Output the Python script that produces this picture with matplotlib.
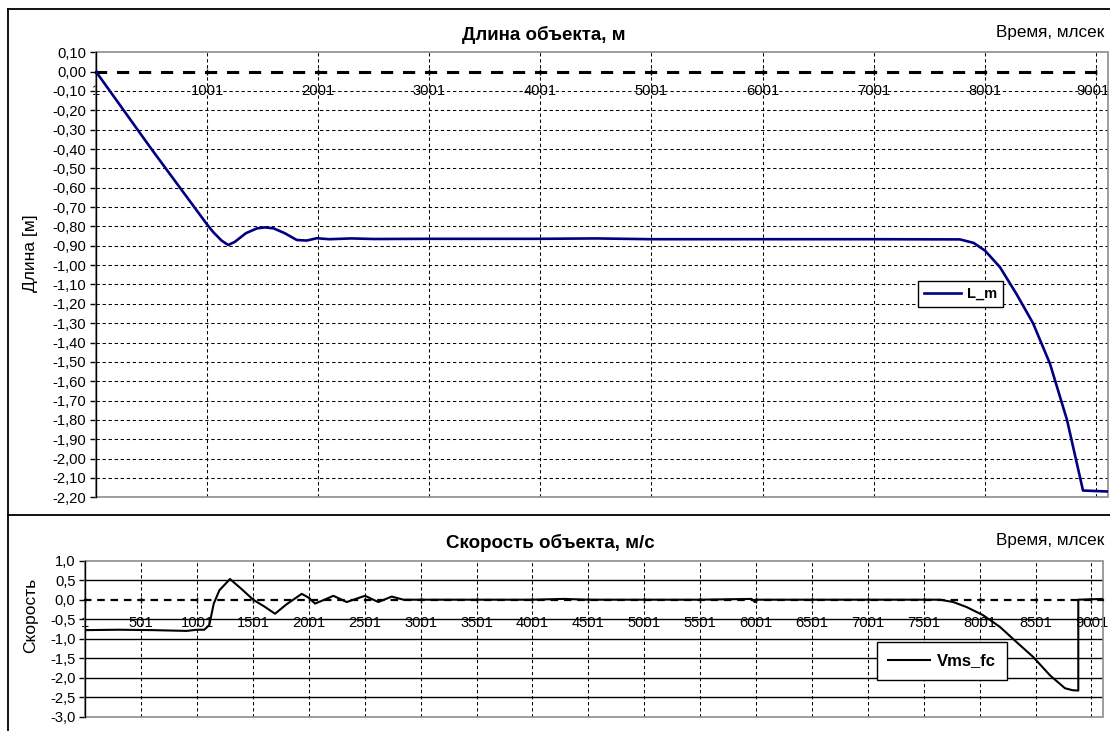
import matplotlib
matplotlib.use("Agg")
import matplotlib.pyplot as plt
from matplotlib.patches import Rectangle
from matplotlib.lines import Line2D
from matplotlib.transforms import ScaledTranslation
import numpy as np

plt.rcParams["font.family"] = ["Liberation Sans", "DejaVu Sans"]

# --- data ---
t_len = [1, 500, 1001, 1057, 1131, 1191, 1250, 1350, 1450, 1522, 1600, 1700,
         1808, 1898, 1988, 2100, 2300, 2500, 3000, 4000, 4500, 5000, 6000,
         7000, 7777, 7900, 8003, 8137, 8287, 8435, 8588, 8741, 8885, 9110]
len_m = [0.0, -0.40, -0.79, -0.83, -0.873, -0.896, -0.88, -0.835, -0.81, -0.805,
         -0.81, -0.835, -0.87, -0.873, -0.861, -0.866, -0.862, -0.865, -0.864,
         -0.864, -0.862, -0.866, -0.866, -0.866, -0.867, -0.885, -0.925, -1.01,
         -1.15, -1.30, -1.51, -1.80, -2.165, -2.17]

t_vel = [1, 300, 600, 908, 1000, 1065, 1110, 1150, 1200, 1295, 1400, 1503,
         1600, 1698, 1800, 1937, 2000, 2056, 2140, 2220, 2339, 2420, 2503,
         2622, 2742, 2846, 3000, 3500, 4000, 4280, 4500, 5000, 5500, 5960,
         5990, 6010, 6500, 7000, 7500, 7646, 7765, 7885, 8033, 8183, 8332,
         8480, 8630, 8764, 8830, 8883, 8883, 9104]
vms_fc = [-0.78, -0.77, -0.78, -0.80, -0.77, -0.77, -0.65, -0.10, 0.24, 0.53,
          0.27, 0.0, -0.17, -0.36, -0.12, 0.15, 0.05, -0.10, 0.0, 0.10, -0.06,
          0.02, 0.10, -0.06, 0.08, 0.0, 0.0, 0.0, 0.0, 0.02, 0.0, 0.0, 0.0,
          0.02, -0.06, 0.0, 0.0, 0.0, 0.0, 0.0, -0.06, -0.19, -0.40, -0.70,
          -1.09, -1.47, -1.94, -2.27, -2.32, -2.33, 0.0, 0.02]

len_xticks = list(range(1, 9002, 1000))
len_yticks = [round(0.1 - 0.1 * i, 2) for i in range(24)]
vel_xticks = list(range(1, 9002, 500))
vel_yticks = [round(1.0 - 0.5 * i, 1) for i in range(9)]

W, H = 1110, 731
fig = plt.figure(figsize=(W / 100, H / 100), dpi=100)
fig.patch.set_facecolor("white")


def px_box(x0, y0, x1, y1):
    return [x0 / W, 1 - y1 / H, (x1 - x0) / W, (y1 - y0) / H]


grid_ls = (0, (3.2, 2.6))
gray = "#8c8c8c"


def style_axes(ax, xticks, yticks, fmt, zero_lw, zero_dash, xpad, tsize):
    ax.set_xticks(xticks)
    ax.set_xticklabels([str(v) for v in xticks])
    ax.set_yticks(yticks)
    ax.set_yticklabels([fmt.format(v + 0.0).replace(".", ",") for v in yticks])
    for s in ("top", "right"):
        ax.spines[s].set_visible(False)
    ax.spines["left"].set_color("black")
    ax.spines["left"].set_linewidth(1.0)
    ax.spines["left"].set_zorder(4)
    # category axis crosses at zero, drawn dashed like the original
    ax.spines["bottom"].set_position(("data", 0))
    ax.spines["bottom"].set_color("black")
    ax.spines["bottom"].set_linewidth(zero_lw)
    ax.spines["bottom"].set_linestyle(zero_dash)
    ax.spines["bottom"].set_zorder(3)
    ax.add_patch(Rectangle((0, 0), 1, 1, transform=ax.transAxes, fill=False,
                           edgecolor=gray, lw=1.2, zorder=2, clip_on=False))
    ax.tick_params(axis="y", length=4, width=1, pad=3, labelsize=tsize,
                   colors="black")
    ax.tick_params(axis="x", length=5, width=1, direction="inout",
                   pad=xpad, labelsize=tsize, colors="black")
    ax.xaxis.grid(True, color="black", linestyle=grid_ls, lw=0.75)


# --- top chart: length ---
ax1 = fig.add_axes(px_box(96, 52.3, 1108, 497.3))
ax1.set_xlim(1, 9110)
ax1.set_ylim(-2.2, 0.1)
style_axes(ax1, len_xticks, len_yticks, "{:.2f}", 2.2, (0, (3.0, 4.2)), 6.5,
           10.6)
ax1.yaxis.grid(True, color="black", linestyle=grid_ls, lw=0.75)
for v, gl in zip(len_yticks, ax1.get_ygridlines()):
    if v in (0.1, 0.0, -2.2):
        gl.set_visible(False)
# keep the last label inside the picture
last = ax1.get_xticklabels()[-1]
last.set_transform(last.get_transform() + ScaledTranslation(-3 / 100, 0, fig.dpi_scale_trans))
ax1.plot(t_len, len_m, color="#000080", lw=1.9, zorder=5, label="L_m")
leg1 = ax1.legend(loc="center", bbox_to_anchor=(960.5 / W, 1 - 294 / H),
                  bbox_transform=fig.transFigure, fancybox=False,
                  edgecolor="black", framealpha=1, handlelength=2.5,
                  prop={"weight": "bold", "size": 10.5}, borderpad=0.4,
                  handletextpad=0.4, borderaxespad=0)
leg1.get_frame().set_linewidth(1.0)

# --- bottom chart: velocity ---
ax2 = fig.add_axes(px_box(85.3, 560.7, 1103, 716.7))
ax2.set_xlim(1, 9104)
ax2.set_ylim(-3.0, 1.0)
style_axes(ax2, vel_xticks, vel_yticks, "{:.1f}", 1.6, (0, (2.4, 3.6)), 9.5,
           10.6)
ax2.yaxis.grid(True, color="black", linestyle="-", lw=1.0)
for v, gl in zip(vel_yticks, ax2.get_ygridlines()):
    if v in (1.0, 0.0, -3.0):
        gl.set_visible(False)
ax2.xaxis.get_gridlines()[0].set_visible(False)
ax2.plot(t_vel, vms_fc, color="black", lw=1.5, zorder=5, label="Vms_fc")
leg2 = ax2.legend(loc="center", bbox_to_anchor=(942 / W, 1 - 661 / H),
                  bbox_transform=fig.transFigure, fancybox=False,
                  edgecolor="black", framealpha=1, handlelength=2.5,
                  prop={"weight": "bold", "size": 12}, borderpad=0.7,
                  handletextpad=0.4, borderaxespad=0)
leg2.get_frame().set_linewidth(1.0)

# --- texts ---
fig.text(544 / W, 1 - 35 / H, "Длина объекта, м", ha="center", va="center",
         fontsize=13.5, fontweight="bold")
fig.text(1104 / W, 1 - 32 / H, "Время, млсек", ha="right", va="center",
         fontsize=12.3)
fig.text(31 / W, 1 - 253 / H, "Длина [м]", ha="center", va="center",
         rotation=90, fontsize=12.5)
fig.text(550 / W, 1 - 543 / H, "Скорость объекта, м/с", ha="center",
         va="center", fontsize=13.5, fontweight="bold")
fig.text(1104 / W, 1 - 541 / H, "Время, млсек", ha="right", va="center",
         fontsize=12.3)
fig.text(31 / W, 1 - 615 / H, "Скорость", ha="center", va="center",
         rotation=90, fontsize=12.5)

# chart frames
for xs, ys in (([8.3, 8.3], [9.3, H]), ([8.3, W], [9.3, 9.3]),
               ([8.3, W], [515.3, 515.3])):
    fig.add_artist(Line2D([x / W for x in xs], [1 - y / H for y in ys],
                          color="black", lw=1.3, transform=fig.transFigure))

fig.savefig("out.png", dpi=100)
